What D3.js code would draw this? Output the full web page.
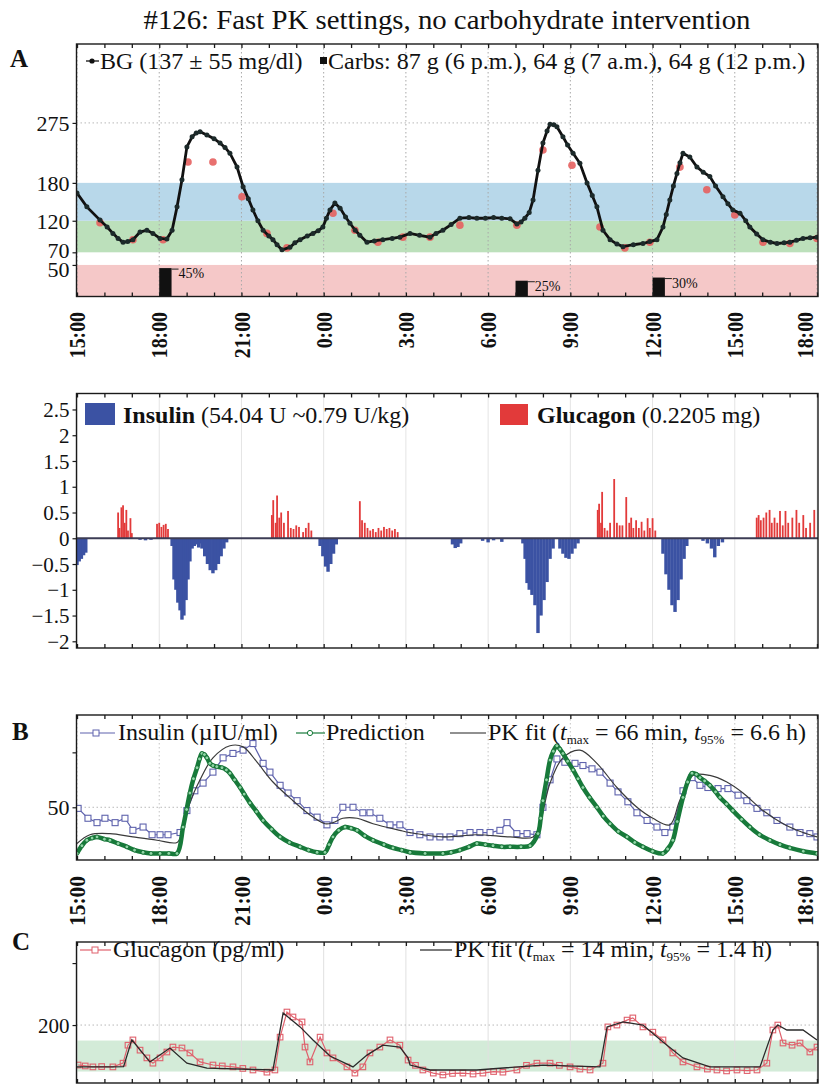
<!DOCTYPE html>
<html><head><meta charset="utf-8">
<script src="https://cdn.jsdelivr.net/npm/d3@7"></script>
<style>
body{margin:0;background:#fff;}
svg text{font-family:"Liberation Serif","Times New Roman",serif;fill:#111;}
</style>
</head><body>
<svg id="c" width="820" height="1085"></svg>
<script>
// ================= DATA =================
const titleText = "#126: Fast PK settings, no carbohydrate intervention";
const timeTickHours = [0,3,6,9,12,15,18,21,24,27];          // hours after 15:00
const timeTickLabels = ["15:00","18:00","21:00","0:00","3:00","6:00","9:00","12:00","15:00","18:00"];
const hourMinorTicks = d3.range(0,28);

// Panel A: blood glucose (mg/dl)
const bgTickValues = [275,180,120,70,50];
const bgTickLabels = ["275","180","120","70","50"];
const bgRangeLow = [0,50];      // hypo band
const bgRangeTarget = [70,120]; // target band
const bgRangeHigh = [120,180];  // elevated band
const cgm = [[0,164],[0.36,142],[0.84,121],[1.1,110],[1.31,100],[1.5,92],[1.68,86],[1.85,87],[2.04,90],[2.30,102],[2.55,105],[2.77,100],[3.03,92],[3.28,91],[3.47,105],[3.65,142],[3.83,185],[4.01,237],[4.20,253],[4.35,259],[4.49,261],[4.74,256],[5.0,250],[5.22,243],[5.40,236],[5.58,227],[5.84,205],[6.06,174],[6.25,155],[6.42,137],[6.6,120],[6.79,105],[7.0,96],[7.15,90],[7.3,82],[7.48,74],[7.77,78],[7.95,85],[8.14,90],[8.4,96],[8.61,100],[8.8,104],[8.97,110],[9.1,124],[9.23,137],[9.41,148],[9.60,140],[9.8,126],[9.96,116],[10.15,105],[10.32,97],[10.58,86],[10.85,88],[11.16,90],[11.5,92],[11.78,94],[12.15,100],[12.5,97],[12.88,94],[13.1,100],[13.35,105],[13.65,114],[13.97,124],[14.3,125],[14.59,124],[14.9,124],[15.20,125],[15.5,124],[15.80,123],[16.05,115],[16.2,118],[16.34,124],[16.5,133],[16.64,153],[16.82,200],[17.00,243],[17.15,262],[17.26,273],[17.40,272],[17.51,269],[17.73,253],[17.9,240],[18.10,227],[18.35,211],[18.61,180],[18.8,160],[18.97,142],[19.19,105],[19.45,90],[19.7,83],[19.92,79],[20.30,82],[20.65,84],[20.9,87],[21.16,90],[21.38,110],[21.5,130],[21.63,153],[21.76,175],[21.89,195],[22.0,212],[22.11,227],[22.36,221],[22.62,205],[22.85,197],[23.09,190],[23.3,175],[23.57,158],[23.75,147],[23.93,137],[24.19,132],[24.4,120],[24.55,110],[24.8,99],[25.03,90],[25.3,86],[25.54,84],[25.8,85],[26.01,86],[26.25,89],[26.49,92],[26.75,93],[27.0,94]];
const bgReference = [[0.84,117],[2.04,90],[3.14,90],[4.05,213],[4.96,213],[6.02,158],[6.93,100],[7.66,77],[9.34,132],[10.14,105],[10.98,86],[11.89,94],[12.88,94],[13.97,113],[16.05,113],[17.0,232],[18.06,208],[19.08,110],[19.99,77],[20.90,86],[22.0,205],[22.98,169],[24.0,129],[25.03,86],[26.01,84],[27.0,92]];
const carbMeals = [{h:3,pct:45,label:"45%"},{h:16,pct:25,label:"25%"},{h:21,pct:30,label:"30%"}];
const carbDuration = 0.45;

// Bar panel: insulin (negative) and glucagon (positive) doses
const doseTickValues = [2.5,2,1.5,1,0.5,0,-0.5,-1,-1.5,-2];
const doseTickLabels = ["2.5","2","1.5","1","0.5","0","\u22120.5","\u22121","\u22121.5","\u22122"];
const insulinDoses = [[0.0,-0.52],[0.08,-0.45],[0.16,-0.40],[0.24,-0.33],[0.32,-0.28],
 [2.3,-0.03],[2.5,-0.04],[2.7,-0.03],
 [3.47,-0.15],[3.54,-0.8],[3.61,-1.0],[3.68,-1.25],[3.76,-1.4],[3.83,-1.58],[3.90,-1.5],[3.98,-1.2],[4.05,-0.8],[4.12,-0.45],[4.20,-0.2],[4.28,-0.15],[4.36,-0.12],[4.44,-0.18],[4.50,-0.1],
 [4.56,-0.2],[4.66,-0.35],[4.76,-0.5],[4.86,-0.62],[4.96,-0.68],[5.06,-0.62],[5.16,-0.5],[5.26,-0.35],[5.36,-0.2],[5.46,-0.08],
 [8.87,-0.15],[8.97,-0.35],[9.07,-0.55],[9.16,-0.65],[9.26,-0.5],[9.36,-0.3],[9.46,-0.12],
 [13.7,-0.12],[13.8,-0.19],[13.9,-0.17],[14.0,-0.1],[14.8,-0.05],[15.0,-0.08],[15.2,-0.04],[15.5,-0.07],
 [16.27,-0.1],[16.35,-0.4],[16.42,-0.87],[16.5,-1.0],[16.6,-1.1],[16.71,-1.3],[16.82,-1.84],[16.93,-1.5],[17.04,-1.2],[17.15,-0.85],[17.26,-0.4],[17.37,-0.2],
 [17.62,-0.2],[17.73,-0.3],[17.84,-0.38],[17.95,-0.4],[18.06,-0.3],[18.17,-0.2],[18.28,-0.1],
 [21.38,-0.3],[21.49,-0.7],[21.6,-1.0],[21.71,-1.3],[21.82,-1.43],[21.93,-1.2],[22.04,-0.8],[22.15,-0.4],[22.25,-0.15],
 [22.84,-0.05],[23.0,-0.1],[23.15,-0.2],[23.27,-0.37],[23.4,-0.15],[23.55,-0.08]];
const glucagonDoses = [[1.50,0.5],[1.55,0.2],[1.62,0.6],[1.68,0.64],[1.74,0.3],[1.80,0.55],[1.86,0.15],[1.95,0.39],[2.0,0.1],
 [2.92,0.28],[3.0,0.3],[3.08,0.22],[3.16,0.26],[3.24,0.28],[3.32,0.18],
 [7.11,0.45],[7.16,0.74],[7.25,0.3],[7.30,0.83],[7.38,0.4],[7.45,0.5],[7.55,0.3],[7.70,0.53],[7.8,0.2],[7.9,0.18],[8.0,0.25],[8.1,0.22],[8.25,0.12],[8.35,0.2],[8.45,0.3],[8.55,0.15],
 [10.32,0.72],[10.4,0.35],[10.5,0.3],[10.6,0.2],[10.7,0.15],[10.8,0.18],[10.9,0.12],[11.0,0.2],[11.1,0.15],[11.2,0.22],[11.3,0.18],[11.4,0.2],[11.5,0.15],[11.6,0.18],[11.7,0.12],
 [19.0,0.55],[19.05,0.67],[19.12,0.3],[19.16,0.9],[19.25,0.2],[19.35,0.15],[19.45,0.3],[19.6,1.15],[19.7,0.3],[19.8,0.25],[19.9,0.25],[20.04,0.8],[20.15,0.3],[20.22,0.4],[20.3,0.2],[20.4,0.35],[20.5,0.2],[20.6,0.32],[20.7,0.15],[20.82,0.39],[20.9,0.2],[21.0,0.39],[21.1,0.15],
 [24.8,0.4],[24.87,0.45],[24.95,0.35],[25.05,0.4],[25.15,0.5],[25.27,0.55],[25.35,0.3],[25.45,0.4],[25.55,0.3],[25.65,0.53],[25.75,0.25],[25.85,0.53],[25.95,0.3],[26.1,0.4],[26.25,0.55],[26.35,0.3],[26.5,0.45],[26.6,0.2],[26.75,0.3],[26.9,0.55]];

// Panel B: plasma insulin (µIU/ml)
const insTickValues = [50,100];
const insTickLabels = ["50",""];
const insulinMeasured = [[0.04,49],[0.40,40],[0.73,36],[1.02,40],[1.39,36],[1.75,40],[2.04,29],[2.41,32],[2.74,25],[3.03,25],[3.32,25],[3.76,27],[4.01,47],[4.30,65],[4.60,72],[4.96,82],[5.33,95],[5.69,99],[6.06,102],[6.42,108],[6.79,90],[7.04,82],[7.41,70],[7.70,63],[8.03,56],[8.39,47],[8.76,41],[9.12,34],[9.41,38],[9.70,50],[10.07,50],[10.43,45],[10.69,45],[11.05,40],[11.42,34],[11.78,34],[12.15,27],[12.51,25],[12.88,23],[13.24,23],[13.61,23],[13.97,26],[14.34,27],[14.70,27],[15.07,27],[15.43,29],[15.69,36],[16.05,26],[16.42,26],[16.78,25],[17.00,50],[17.26,75],[17.51,94],[17.80,91],[18.17,90],[18.46,88],[18.79,85],[19.08,82],[19.45,72],[19.74,64],[20.10,55],[20.43,45],[20.80,38],[21.16,32],[21.45,27],[21.74,32],[22.11,65],[22.44,77],[22.73,70],[23.02,68],[23.39,67],[23.75,67],[24.12,61],[24.44,56],[24.81,49],[25.17,45],[25.54,38],[26.01,32],[26.38,27],[26.74,26],[27.0,23]];
const insulinPrediction = [[0,8],[0.18,15],[0.36,20],[0.55,22],[0.73,23],[1.0,21],[1.20,20],[1.5,17],[1.82,14],[2.1,11],[2.41,9],[2.7,8],[3.03,8],[3.35,8],[3.65,8],[3.87,32],[4.0,48],[4.12,63],[4.25,76],[4.38,86],[4.47,94],[4.56,99],[4.65,98],[4.74,95],[4.85,90],[4.96,88],[5.1,87],[5.29,86],[5.45,84],[5.58,81],[5.75,75],[5.95,68],[6.1,62],[6.31,54],[6.55,46],[6.79,38],[7.1,30],[7.41,23],[7.75,18],[8.14,14],[8.45,11],[8.76,9],[9.05,9],[9.2,16],[9.34,23],[9.55,29],[9.78,32],[10.0,31],[10.22,29],[10.5,24],[10.80,20],[11.2,16],[11.53,13],[11.85,11],[12.15,9],[12.7,8],[13.35,8],[13.65,9],[13.97,11],[14.3,14],[14.59,17],[14.9,16],[15.18,15],[15.5,14],[15.80,14],[16.2,14],[16.53,15],[16.82,26],[16.92,40],[17.00,56],[17.13,75],[17.26,93],[17.38,101],[17.51,106],[17.62,103],[17.73,99],[17.9,92],[18.10,84],[18.28,76],[18.46,68],[18.7,59],[18.97,50],[19.2,42],[19.45,35],[19.75,28],[20.07,23],[20.35,18],[20.65,14],[21.0,10],[21.38,8],[21.55,12],[21.74,20],[21.9,37],[22.11,59],[22.28,73],[22.44,81],[22.6,80],[22.73,77],[22.9,74],[23.09,70],[23.3,64],[23.46,59],[23.7,53],[23.93,47],[24.25,39],[24.55,32],[24.9,25],[25.28,20],[25.65,16],[26.01,13],[26.5,10],[27.0,8]];
const insulinPKFit = [[0,17],[0.47,25],[1.20,26],[2.04,23],[2.92,20],[3.65,18],[3.83,27],[4.12,54],[4.49,75],[4.96,95],[5.58,106],[6.06,105],[6.57,91],[7.15,73],[7.88,56],[8.50,43],[9.05,35],[9.34,36],[9.70,40],[10.22,40],[10.80,35],[11.78,29],[12.15,27],[13.35,23],[14.59,25],[15.80,23],[16.64,23],[16.89,35],[17.26,72],[17.73,95],[18.35,102],[18.97,90],[19.70,68],[20.43,50],[21.01,40],[21.63,34],[21.99,56],[22.47,79],[23.09,79],[23.71,73],[24.30,63],[25.03,47],[25.76,35],[26.49,27],[27.0,23]];

// Panel C: plasma glucagon (pg/ml)
const gluTickValues = [200,400];
const gluTickLabels = ["200",""];
const gluNormalRange = [50,150];
const glucagonMeasured = [[0.04,71],[0.3,68],[0.58,65],[0.9,66],[1.31,65],[1.68,77],[1.86,135],[2.04,152],[2.30,119],[2.55,94],[2.77,77],[3.03,94],[3.28,113],[3.50,129],[3.83,126],[4.12,110],[4.49,81],[4.96,71],[5.3,68],[5.69,65],[6.05,60],[6.42,55],[6.93,48],[7.22,55],[7.41,161],[7.66,242],[7.88,226],[8.21,210],[8.32,129],[8.50,81],[8.87,161],[9.12,110],[9.34,94],[9.85,65],[10.14,45],[10.43,65],[10.69,110],[11.05,129],[11.42,152],[11.78,135],[12.08,87],[12.35,70],[12.62,55],[13.0,45],[13.35,39],[13.7,44],[14.08,45],[14.45,42],[14.81,45],[15.2,50],[15.54,48],[16.05,55],[16.4,70],[16.78,77],[17.26,77],[17.6,70],[17.99,65],[18.35,58],[18.72,55],[19.19,77],[19.37,194],[19.70,200],[20.07,216],[20.28,223],[20.65,194],[21.01,177],[21.38,152],[21.74,110],[22.11,81],[22.62,65],[23.0,58],[23.35,55],[23.7,52],[24.08,55],[24.45,53],[24.81,55],[25.17,77],[25.39,184],[25.57,200],[25.76,142],[26.09,135],[26.38,142],[26.74,113],[27.0,129]];
const glucagonPKFit = [[0,65],[1.31,65],[1.7,66],[2.0,152],[2.66,81],[3.39,126],[4.01,77],[4.74,61],[7.15,55],[7.52,239],[8.14,194],[8.61,152],[9.23,100],[10.07,65],[10.58,103],[11.16,135],[11.78,129],[12.08,94],[12.15,71],[12.88,55],[14.59,55],[17.0,71],[19.08,65],[19.34,194],[19.92,210],[20.65,200],[21.38,145],[22.11,94],[23.09,65],[24.92,65],[25.39,184],[25.57,200],[25.90,184],[26.49,184],[27.0,152]];

// ================= DRAWING =================
const svg = d3.select("#c");
const SERIF = '"Liberation Serif","Times New Roman",serif';
const x = d3.scaleLinear().domain([0,27]).range([77,817]);
const L = 76.5, R = 818;

const P = {
  A:{top:44, bot:296.5},
  D:{top:393.5, bot:648},
  B:{top:715, bot:860},
  C:{top:942, bot:1083}
};
const yA = d3.scaleLinear().domain([0,400]).range([P.A.bot, P.A.top]);
const yD = d3.scaleLinear().domain([-2.13,2.81]).range([P.D.bot, P.D.top]);
const yB = d3.scaleLinear().domain([2,134]).range([P.B.bot, P.B.top]);
const yC = d3.scaleLinear().domain([13,468]).range([P.C.bot, P.C.top]);

function squeeze(sel,k){ sel.each(function(){ const w=this.getComputedTextLength(); this.setAttribute("textLength",w*k); this.setAttribute("lengthAdjust","spacingAndGlyphs"); }); }

function clipFor(id,p){
  svg.append("clipPath").attr("id",id).append("rect").attr("x",L).attr("y",p.top).attr("width",R-L).attr("height",p.bot-p.top);
  return svg.append("g").attr("clip-path",`url(#${id})`);
}

function vGrid(g,p,dashed,color){
  g.append("g").selectAll("line").data(timeTickHours).join("line")
    .attr("x1",d=>x(d)).attr("x2",d=>x(d)).attr("y1",p.top).attr("y2",p.bot)
    .attr("stroke",color).attr("stroke-width",1).attr("stroke-dasharray",dashed?"1.5,2.5":null);
}
function hGrid(g,scale,val){
  g.append("line").attr("x1",L).attr("x2",R).attr("y1",scale(val)).attr("y2",scale(val))
    .attr("stroke","#b8b8b8").attr("stroke-width",1).attr("stroke-dasharray","1.5,2.5");
}
function frame(p){
  svg.append("rect").attr("x",L).attr("y",p.top).attr("width",R-L).attr("height",p.bot-p.top)
    .attr("fill","none").attr("stroke","#1a1a1a").attr("stroke-width",1.4);
  const top = svg.append("g").attr("transform",`translate(0,${p.top})`)
    .call(d3.axisTop(x).tickValues(hourMinorTicks).tickSize(-4).tickSizeOuter(0).tickFormat(""));
  top.select(".domain").remove(); top.selectAll("line").attr("stroke","#1a1a1a").attr("stroke-width",1.3);
  const bot = svg.append("g").attr("transform",`translate(0,${p.bot})`)
    .call(d3.axisBottom(x).tickValues(hourMinorTicks).tickSize(-4).tickSizeOuter(0).tickFormat(""));
  bot.select(".domain").remove(); bot.selectAll("line").attr("stroke","#1a1a1a").attr("stroke-width",1.3);
}
function yAxis(scale,vals,labels,size,dy){
  const g = svg.append("g").attr("transform",`translate(${L},0)`)
    .call(d3.axisLeft(scale).tickValues(vals).tickFormat((d,i)=>labels[i]).tickSize(4).tickSizeOuter(0).tickPadding(3));
  g.select(".domain").remove();
  g.selectAll("line").attr("stroke","#1a1a1a").attr("stroke-width",1.2);
  g.selectAll("text").attr("font-size",size).attr("font-family",SERIF).attr("fill","#111").attr("dy",dy||"0.34em");
  return g;
}
function timeLabels(yEnd,k){
  const g = svg.append("g");
  g.selectAll("text").data(timeTickHours).join("text")
    .attr("transform",d=>`translate(${Math.min(x(d),805)},${yEnd}) rotate(-90)`)
    .attr("text-anchor","end").attr("dy","0.35em")
    .attr("font-size",23).attr("font-weight","bold")
    .text((d,i)=>timeTickLabels[i]);
  squeeze(g.selectAll("text"),k);
}

// ---- Title and panel letters ----
const tt = svg.append("text").attr("x",447).attr("y",29).attr("text-anchor","middle").attr("font-size",27).text(titleText);
tt.attr("textLength",607).attr("lengthAdjust","spacingAndGlyphs");
svg.append("text").attr("x",10).attr("y",67).attr("font-size",25).attr("font-weight","bold").text("A");
svg.append("text").attr("x",12).attr("y",740).attr("font-size",25).attr("font-weight","bold").text("B");
svg.append("text").attr("x",12).attr("y",950).attr("font-size",25).attr("font-weight","bold").text("C");

// ================= PANEL A =================
{
  const g = clipFor("clipA",P.A);
  const bands = [[bgRangeLow,"#f5c8c8"],[bgRangeTarget,"#bce0bb"],[bgRangeHigh,"#b8d8ea"]];
  g.selectAll("rect.band").data(bands).join("rect")
    .attr("x",L).attr("width",R-L).attr("y",d=>yA(d[0][1])).attr("height",d=>yA(d[0][0])-yA(d[0][1]))
    .attr("fill",d=>d[1]);
  vGrid(g,P.A,true,"#a8a8a8");
  hGrid(g,yA,275);
  // carbs
  g.selectAll("rect.carb").data(carbMeals).join("rect")
    .attr("x",d=>x(d.h)).attr("width",d=>x(d.h+carbDuration)-x(d.h))
    .attr("y",d=>yA(d.pct)).attr("height",d=>yA(0)-yA(d.pct)).attr("fill","#111");
  g.selectAll("line.cl").data(carbMeals).join("line")
    .attr("x1",d=>x(d.h+carbDuration)).attr("x2",d=>x(d.h+carbDuration)+7)
    .attr("y1",d=>yA(d.pct)+1).attr("y2",d=>yA(d.pct)+1).attr("stroke","#222").attr("stroke-width",1);
  g.selectAll("text.cl").data(carbMeals).join("text")
    .attr("x",d=>x(d.h+carbDuration)+7).attr("y",d=>yA(d.pct)+10).attr("font-size",14).text(d=>d.label);
  // reference BG
  g.selectAll("circle.ref").data(bgReference).join("circle")
    .attr("cx",d=>x(d[0])).attr("cy",d=>yA(d[1])).attr("r",3.8).attr("fill","#e5615f").attr("opacity",0.9);
  // CGM
  const line = d3.line().x(d=>x(d[0])).y(d=>yA(d[1])).curve(d3.curveLinear);
  g.append("path").datum(cgm).attr("d",line).attr("fill","none").attr("stroke","#111").attr("stroke-width",2.8);
  g.selectAll("circle.cgm").data(cgm).join("circle")
    .attr("cx",d=>x(d[0])).attr("cy",d=>yA(d[1])).attr("r",2.5).attr("fill","#1c2a2a");
}
frame(P.A);
{
  const ga = yAxis(yA,bgTickValues,bgTickLabels,22);
  ga.selectAll("text").filter(d=>d===70).attr("dy","0.22em");
  ga.selectAll("text").filter(d=>d===50).attr("dy","0.52em");
}
timeLabels(312,0.86);
// legend A
svg.append("line").attr("x1",86).attr("x2",99).attr("y1",61).attr("y2",61).attr("stroke","#111").attr("stroke-width",1.3);
svg.append("circle").attr("cx",92).attr("cy",61).attr("r",2.6).attr("fill","#111");
svg.append("text").attr("x",100).attr("y",69).attr("font-size",24).text("BG (137 \u00b1 55 mg/dl)");
svg.append("rect").attr("x",320).attr("y",57).attr("width",7).attr("height",7).attr("fill","#111");
svg.append("text").attr("x",328).attr("y",69).attr("font-size",24).text("Carbs: 87 g (6 p.m.), 64 g (7 a.m.), 64 g (12 p.m.)");

// ================= DOSE PANEL =================
{
  const g = clipFor("clipD",P.D);
  vGrid(g,P.D,false,"#e4e4e4");
  const wI = x(0.125)-x(0);
  g.selectAll("rect.ins").data(insulinDoses).join("rect")
    .attr("x",d=>x(d[0])-wI/2).attr("width",wI)
    .attr("y",yD(0)).attr("height",d=>yD(d[1])-yD(0)).attr("fill","#3b52a3");
  const wG = 1.8;
  g.selectAll("rect.glu").data(glucagonDoses).join("rect")
    .attr("x",d=>x(d[0])-wG/2).attr("width",wG)
    .attr("y",d=>yD(d[1])).attr("height",d=>yD(0)-yD(d[1])).attr("fill","#e23a3a");
  g.append("line").attr("x1",L).attr("x2",R).attr("y1",yD(0)).attr("y2",yD(0)).attr("stroke","#3c3c55").attr("stroke-width",2);
}
frame(P.D);
yAxis(yD,doseTickValues,doseTickLabels,21);
svg.append("rect").attr("x",85).attr("y",403).attr("width",30).attr("height",22).attr("fill","#3b52a3");
{
  const t = svg.append("text").attr("x",123).attr("y",423).attr("font-size",24);
  t.append("tspan").attr("font-weight","bold").text("Insulin");
  t.append("tspan").text(" (54.04 U ~0.79 U/kg)");
}
svg.append("rect").attr("x",500).attr("y",404).attr("width",28).attr("height",21).attr("fill","#e23a3a");
{
  const t = svg.append("text").attr("x",537).attr("y",423).attr("font-size",24);
  t.append("tspan").attr("font-weight","bold").text("Glucagon");
  t.append("tspan").text(" (0.2205 mg)");
}

// ================= PANEL B =================
{
  const g = clipFor("clipB",P.B);
  vGrid(g,P.B,true,"#c4c4c4");
  hGrid(g,yB,50);
  const lineB = d3.line().x(d=>x(d[0])).y(d=>yB(d[1]));
  g.append("path").datum(insulinMeasured).attr("d",lineB).attr("fill","none").attr("stroke","#5f63ad").attr("stroke-width",1.2);
  g.selectAll("rect.sq").data(insulinMeasured).join("rect")
    .attr("x",d=>x(d[0])-3).attr("y",d=>yB(d[1])-3).attr("width",6).attr("height",6)
    .attr("fill","#fff").attr("stroke","#5f63ad").attr("stroke-width",1.1);
  g.append("path").datum(insulinPKFit).attr("d",lineB.curve(d3.curveCatmullRom)).attr("fill","none").attr("stroke","#3a3a3a").attr("stroke-width",1.2);
  const lineP = d3.line().x(d=>x(d[0])).y(d=>yB(d[1])).curve(d3.curveCatmullRom);
  g.append("path").datum(insulinPrediction).attr("d",lineP).attr("fill","none").attr("stroke","#177a3a").attr("stroke-width",4.5);
  g.selectAll("circle.pr").data(insulinPrediction).join("circle")
    .attr("cx",d=>x(d[0])).attr("cy",d=>yB(d[1])).attr("r",1.9)
    .attr("fill","#8fd6a6").attr("stroke","#0f6a2e").attr("stroke-width",0.8);
}
frame(P.B);
yAxis(yB,insTickValues,insTickLabels,22);
timeLabels(876,0.93);
// legend B
svg.append("line").attr("x1",80).attr("x2",115).attr("y1",733).attr("y2",733).attr("stroke","#5f63ad").attr("stroke-width",1.2);
svg.append("rect").attr("x",93).attr("y",730).attr("width",6).attr("height",6).attr("fill","#fff").attr("stroke","#5f63ad");
svg.append("text").attr("x",118).attr("y",740).attr("font-size",24).text("Insulin (\u00b5IU/ml)");
svg.append("line").attr("x1",296).attr("x2",325).attr("y1",733).attr("y2",733).attr("stroke","#177a3a").attr("stroke-width",1.2);
svg.append("circle").attr("cx",310).attr("cy",733).attr("r",2.6).attr("fill","#fff").attr("stroke","#177a3a");
svg.append("text").attr("x",326).attr("y",740).attr("font-size",24).text("Prediction");
svg.append("line").attr("x1",450).attr("x2",486).attr("y1",733).attr("y2",733).attr("stroke","#222").attr("stroke-width",1.2);
function pkText(xp,yp,tmax,t95){
  const t = svg.append("text").attr("x",xp).attr("y",yp).attr("font-size",24);
  t.append("tspan").text("PK fit (");
  t.append("tspan").attr("font-style","italic").text("t");
  t.append("tspan").attr("font-size",13).attr("dy",4).text("max");
  t.append("tspan").attr("dy",-4).text(` = ${tmax} min, `);
  t.append("tspan").attr("font-style","italic").text("t");
  t.append("tspan").attr("font-size",13).attr("dy",4).text("95%");
  t.append("tspan").attr("dy",-4).text(` = ${t95} h)`);
}
pkText(488,740,"66","6.6");

// ================= PANEL C =================
{
  const g = clipFor("clipC",P.C);
  g.append("rect").attr("x",L).attr("width",R-L).attr("y",yC(gluNormalRange[1])).attr("height",yC(gluNormalRange[0])-yC(gluNormalRange[1])).attr("fill","#d3ebd8");
  vGrid(g,P.C,false,"#e0e0e0");
  hGrid(g,yC,200);
  const lineC = d3.line().x(d=>x(d[0])).y(d=>yC(d[1]));
  g.append("path").datum(glucagonMeasured).attr("d",lineC).attr("fill","none").attr("stroke","#e0606c").attr("stroke-width",1.2);
  g.selectAll("rect.sq").data(glucagonMeasured).join("rect")
    .attr("x",d=>x(d[0])-2.8).attr("y",d=>yC(d[1])-2.8).attr("width",5.6).attr("height",5.6)
    .attr("fill","none").attr("stroke","#e0606c").attr("stroke-width",1.1);
  g.append("path").datum(glucagonPKFit).attr("d",lineC).attr("fill","none").attr("stroke","#2a2a2a").attr("stroke-width",1.3);
}
frame(P.C);
yAxis(yC,gluTickValues,gluTickLabels,21);
svg.append("line").attr("x1",80).attr("x2",111).attr("y1",950).attr("y2",950).attr("stroke","#e0606c").attr("stroke-width",1.2);
svg.append("rect").attr("x",92).attr("y",947).attr("width",6).attr("height",6).attr("fill","#fff").attr("stroke","#e0606c");
svg.append("text").attr("x",113).attr("y",957).attr("font-size",24).text("Glucagon (pg/ml)");
svg.append("line").attr("x1",420).attr("x2",452).attr("y1",950).attr("y2",950).attr("stroke","#222").attr("stroke-width",1.2);
pkText(454,957,"14","1.4");
</script>
</body></html>
